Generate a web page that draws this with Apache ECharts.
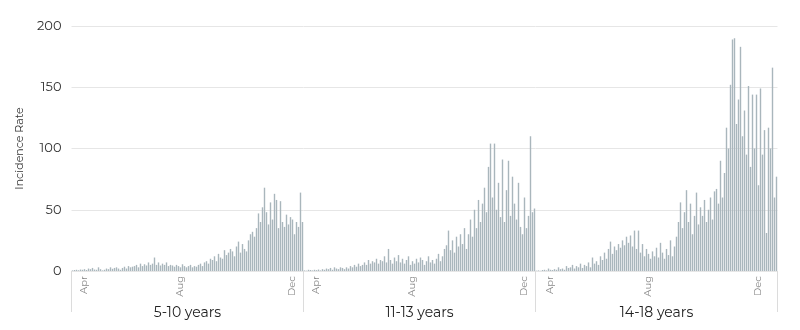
<!DOCTYPE html>
<html>
<head>
<meta charset="utf-8">
<script src="https://cdn.jsdelivr.net/npm/echarts@6/dist/echarts.min.js"></script>
<style>
html,body{margin:0;padding:0;background:#fff;}
#chart{width:800px;height:330px;}
</style>
</head>
<body>
<div id="chart"></div>
<script>
// Group labels
var groups = ['5-10 years', '11-13 years', '14-18 years'];
// Month tick labels and their category index in each panel
var monthLabels = ['Apr', 'Aug', 'Dec'];
var monthIdx1 = [6, 54, 110];
var monthIdx2 = [6, 54, 110];
var monthIdx3 = [7, 56, 111];
var yTicks = [0, 50, 100, 150, 200];

// Daily incidence rate values
var rate5to10 = [
  0.5,0.8,1,0.6,1.2,1,1.5,0.8,2,1.5,
  2.5,1.2,1,3,1.5,0.5,1,2,1.5,3,
  1.8,2.5,3,2,1,2.5,3.5,2,4,3,
  3.5,4,5,3,6,4,5.5,4.5,7,5,
  6,11,5,7,4.5,6,5,7,4,5,
  4.5,3.5,5,4,3,5.5,4,3,4,5,
  3,4,3.5,5,6,4,7,8,6,10,
  9,12,8,14,11,10,17,13,15,18,
  16,12,20,24,15,22,18,16,25,30,
  32,28,35,47,40,52,68,48,38,56,
  42,63,58,35,57,40,36,46,38,44,
  42,30,40,36,64,40
];
var rate11to13 = [
  0.5,0.3,1,0.8,0.5,1,0.7,1.2,0.5,1.5,
  1,2,1.5,2.5,1,3,2,1.5,3,2.5,
  1.5,3,2,4,3,5,3.5,6,4,5,
  7,5,9,6,8,7,10,6,9,8,
  12,7,18,9,6,11,8,13,7,10,
  6,9,12,5,8,6,10,7,11,9,
  5,8,12,7,9,6,10,14,8,12,
  18,21,33,17,25,15,28,20,30,22,
  35,18,30,42,28,50,35,58,40,55,
  68,48,85,104,60,104,50,72,44,91,
  40,66,90,45,77,55,42,72,36,30,
  60,35,45,110,48,51
];
var rate14to18 = [
  0.3,0.5,0.2,0.8,1,0.5,2,1,0.8,1.5,
  1,3,1.5,2,1,4,2.5,3,5,2,
  4,3,6,2.5,5,4,7,3,11,6,
  8,5,12,9,15,10,18,24,14,20,
  17,22,19,25,21,28,23,29,20,33,
  18,33,15,22,12,18,14,10,16,12,
  19,11,23,15,10,18,13,25,12,20,
  28,40,56,35,48,66,40,55,30,45,
  64,38,52,45,58,40,50,60,42,65,
  67,55,90,60,80,117,100,152,189,190,
  120,140,183,110,131,95,151,85,144,100,
  144,70,149,95,115,31,117,100,166,60,
  77
];

var FONT = 'Montserrat, "Noto Sans", sans-serif';
var BAR = '#a9b6bc';
var GRIDC = '#e6e6e6';
var SEP = '#dcdcdc';

function cats(n) { var a = []; for (var i = 0; i < n; i++) a.push(i); return a; }
function labelFmt(idx) {
  return function (v, i) { var k = idx.indexOf(i); return k >= 0 ? monthLabels[k] : ''; };
}

var panels = [
  {vals: rate5to10, idx: monthIdx1, left: 71.5, width: 232},
  {vals: rate11to13, idx: monthIdx2, left: 303.5, width: 232},
  {vals: rate14to18, idx: monthIdx3, left: 535.5, width: 242}
];

var grid = [], xAxis = [], yAxis = [], series = [];
panels.forEach(function (p, g) {
  grid.push({left: p.left, width: p.width, top: 26, bottom: 59, containLabel: false});
  xAxis.push({
    type: 'category', gridIndex: g, data: cats(p.vals.length), boundaryGap: true,
    axisLine: {show: false}, axisTick: {show: false},
    axisLabel: {interval: 0, rotate: 90, formatter: labelFmt(p.idx), color: '#8a8a8a',
      fontSize: 10, fontFamily: FONT, margin: 5}
  });
  xAxis.push({
    type: 'category', gridIndex: g, position: 'bottom', data: [groups[g]], boundaryGap: true,
    axisLine: {show: false},
    axisTick: {show: true, length: 41, lineStyle: {color: SEP}},
    axisLabel: {color: '#222', fontSize: 14, fontFamily: FONT, margin: 35}
  });
  yAxis.push({
    type: 'value', gridIndex: g, min: yTicks[0], max: yTicks[yTicks.length - 1], interval: 50,
    axisLine: {show: false}, axisTick: {show: false},
    splitLine: {show: true, lineStyle: {color: GRIDC, width: 1}},
    axisLabel: {show: g === 0, color: '#333', fontSize: 13, fontFamily: FONT, margin: 10},
    name: g === 0 ? 'Incidence Rate' : '', nameLocation: 'middle', nameGap: 46,
    nameTextStyle: {color: '#333', fontSize: 11, fontFamily: FONT}
  });
  series.push({
    type: 'bar', xAxisIndex: g * 2, yAxisIndex: g, data: p.vals,
    barWidth: 1.4, itemStyle: {color: BAR}, silent: true, animation: false
  });
});

var chart = echarts.init(document.getElementById('chart'), null, {renderer: 'canvas'});
chart.setOption({
  backgroundColor: '#fff',
  animation: false,
  grid: grid, xAxis: xAxis, yAxis: yAxis, series: series
});
</script>
</body>
</html>
